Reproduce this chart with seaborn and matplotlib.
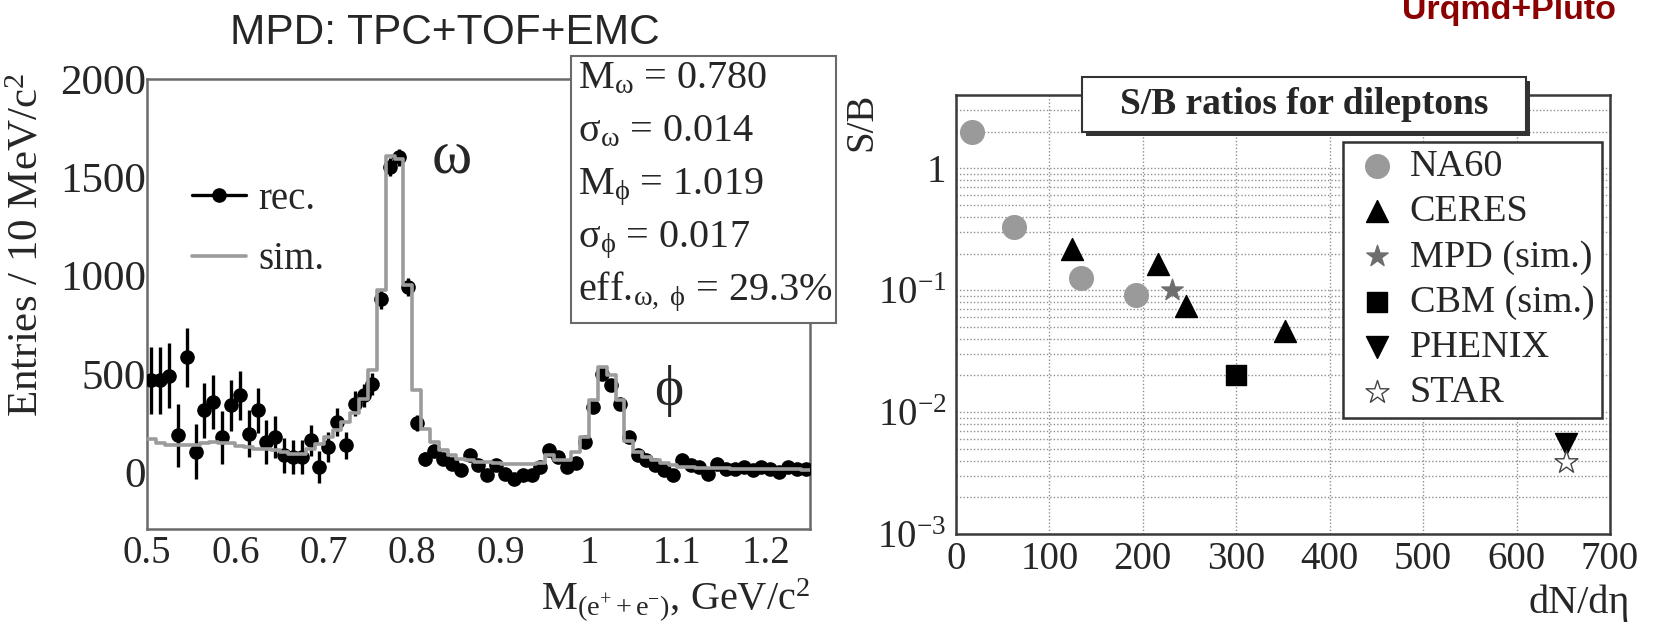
import numpy as np
import pandas as pd
import matplotlib
matplotlib.use("Agg")
import matplotlib.pyplot as plt
from matplotlib.lines import Line2D
from matplotlib.patches import Rectangle
from matplotlib.ticker import FixedLocator, FixedFormatter, MultipleLocator, LogLocator, NullFormatter
import seaborn as sns

# ---------------- invariant-mass spectrum (10 MeV/c^2 bins) ----------------
mass_lo, mass_hi, bin_width = 0.50, 1.25, 0.01

rec_counts = [466, 466, 491, 187, 585, 102, 314, 356, 178, 339,
              390, 195, 314, 153, 178, 85, 76, 76, 161, 25,
              127, 254, 136, 348, 390, 449, 882, 1551, 1601, 940,
              250, 68, 106, 68, 43, 9, 85, 34, -17, 34,
              -8, -34, -17, -17, 25, 110, 76, 25, 48, 153,
              330, 500, 441, 348, 178, 85, 59, 34, 9, -17,
              59, 34, 25, -8, 43, 17, 17, 25, 9, 25,
              17, 0, 25, 17, 17]
rec_errors = [170, 170, 165, 160, 150, 140, 140, 138, 135, 130,
              125, 120, 115, 110, 105, 90, 85, 85, 80, 80,
              75, 72, 70, 65, 60, 55, 50, 45, 45, 45,
              40, 35, 32, 30, 28, 28, 27, 26, 26, 25,
              25, 24, 24, 24, 24, 24, 24, 24, 24, 25,
              28, 30, 30, 28, 25, 22, 20, 18, 17, 16,
              15, 15, 14, 14, 14, 13, 13, 13, 13, 13,
              12, 12, 12, 12, 12]
sim_counts = [170, 146, 136, 136, 136, 140, 150, 153, 150, 150,
              130, 127, 119, 119, 110, 100, 93, 93, 119, 144,
              178, 215, 255, 300, 370, 517, 924, 1610, 1595, 950,
              415, 220, 153, 110, 85, 68, 59, 51, 51, 47,
              43, 40, 40, 40, 45, 85, 60, 59, 102, 178,
              365, 534, 492, 365, 160, 100, 75, 60, 45, 35,
              28, 25, 22, 20, 20, 18, 17, 16, 15, 15,
              14, 14, 13, 13, 12]

mass_ticks = [0.5, 0.6, 0.7, 0.8, 0.9, 1.0, 1.1, 1.2]
mass_tick_labels = ["0.5", "0.6", "0.7", "0.8", "0.9", "1", "1.1", "1.2"]
count_ticks = [0, 500, 1000, 1500, 2000]
count_tick_labels = ["0", "500", "1000", "1500", "2000"]

fit_lines = ["M$_{ω}$ = 0.780",
             "σ$_{ω}$ = 0.014",
             "M$_{ϕ}$ = 1.019",
             "σ$_{ϕ}$ = 0.017",
             "eff.$_{ω,\\ ϕ}$ = 29.3%"]

# ---------------- S/B ratios for dileptons ----------------
na60_dndeta = [17, 62, 134, 193]
na60_sb = [2.0, 0.33, 0.125, 0.091]
ceres_dndeta = [124, 216, 246, 352]
ceres_sb = [0.22, 0.164, 0.074, 0.046]
mpd_dndeta = [231]
mpd_sb = [0.101]
cbm_dndeta = [300]
cbm_sb = [0.020]
phenix_dndeta = [653]
phenix_sb = [0.0055]
star_dndeta = [653]
star_sb = [0.0039]

dndeta_ticks = [0, 100, 200, 300, 400, 500, 600, 700]
sb_ticks = [1e-3, 1e-2, 1e-1, 1]
sb_tick_labels = ["10$^{-3}$", "10$^{-2}$", "10$^{-1}$", "1"]

# ---------------- style ----------------
sns.set_style("white")
SERIF = ["Liberation Serif", "DejaVu Serif"]
SANS = ["Liberation Sans", "DejaVu Sans"]
plt.rcParams["font.family"] = SERIF
plt.rcParams["mathtext.fontset"] = "custom"
plt.rcParams["mathtext.rm"] = "Liberation Serif"
plt.rcParams["mathtext.it"] = "Liberation Serif:italic"
plt.rcParams["mathtext.bf"] = "Liberation Serif:bold"
plt.rcParams["mathtext.default"] = "regular"

W, H = 1656, 628
fig = plt.figure(figsize=(W / 100, H / 100), dpi=100)
fig.patch.set_facecolor("white")


def fx(px):
    return px / W


def fy(py):
    return 1 - py / H


FS = 28
FRAME = "#6a6a6a"

# ================= left panel: e+e- invariant mass =================
ax1 = fig.add_axes([fx(147), fy(529), fx(810) - fx(147), fy(79) - fy(529)])
n_bins = len(sim_counts)
edges = np.linspace(mass_lo, mass_hi, n_bins + 1)
centers = 0.5 * (edges[:-1] + edges[1:])
spec = pd.DataFrame({"mass": centers, "rec": rec_counts,
                     "err": rec_errors, "sim": sim_counts})

ax1.errorbar(spec["mass"], spec["rec"], yerr=spec["err"], fmt="o", color="black",
             ms=9.5, elinewidth=2.4, capsize=0, zorder=3)
sns.histplot(data=spec, x="mass", weights="sim", bins=n_bins,
             binrange=(mass_lo, mass_hi), element="step", fill=False,
             color="#9c9c9c", linewidth=2.6, ax=ax1, zorder=4)

ax1.set_xlim(mass_lo, mass_hi)
ax1.set_ylim(-290, 2000)
ax1.set_xlabel("")
ax1.set_ylabel("")
ax1.xaxis.set_major_locator(FixedLocator(mass_ticks))
ax1.xaxis.set_major_formatter(FixedFormatter(mass_tick_labels))
ax1.xaxis.set_minor_locator(MultipleLocator(0.02))
ax1.yaxis.set_major_locator(FixedLocator(count_ticks))
ax1.yaxis.set_major_formatter(FixedFormatter(count_tick_labels))
ax1.yaxis.set_minor_locator(MultipleLocator(100))
for sp in ax1.spines.values():
    sp.set_color(FRAME)
    sp.set_linewidth(1.8)
ax1.tick_params(which="both", direction="in", color=FRAME, width=1.4,
                top=False, right=False, labelsize=FS)
ax1.tick_params(axis="y", which="major", length=13, pad=0.5, labelsize=31)
ax1.tick_params(axis="y", which="minor", length=6.5)
ax1.tick_params(axis="x", which="major", length=9.5, pad=4)
ax1.tick_params(axis="x", which="minor", length=4)

handles = [Line2D([], [], color="black", marker="o", ms=9.5, lw=2.4),
           Line2D([], [], color="#9c9c9c", lw=2.6)]
ax1.legend(handles, ["rec.", "sim."], loc="upper left",
           bbox_to_anchor=(fx(192), fy(181)), bbox_transform=fig.transFigure,
           frameon=False, fontsize=FS, handlelength=1.4, handletextpad=0.3,
           labelspacing=0.6, borderpad=0, borderaxespad=0)

ax1.text(0.845, 1600, "ω", fontsize=44, ha="center", va="center")
ax1.text(1.090, 410, "ϕ", fontsize=40, ha="center", va="center")

fig.text(fx(47), fy(73), "Entries / 10 MeV/c$^{2}$", rotation=90,
         ha="right", va="top", fontsize=31)
fig.text(fx(810), fy(609), "M$_{(e^{+}+e^{-})}$, GeV/c$^{2}$",
         ha="right", va="baseline", fontsize=29)

# fit-result box
fig.patches.append(Rectangle((fx(571), fy(323)), fx(836) - fx(571), fy(56) - fy(323),
                             transform=fig.transFigure, facecolor="white",
                             edgecolor=FRAME, linewidth=1.5, zorder=5))
for i, line in enumerate(fit_lines):
    fig.text(fx(578), fy(88 + 53 * i), line, ha="left", va="baseline",
             fontsize=29, zorder=6)

fig.text(fx(445), fy(44), "MPD: TPC+TOF+EMC", family=SANS, fontsize=30.5,
         ha="center", va="baseline")

# ================= right panel: S/B vs dN/deta =================
ax2 = fig.add_axes([fx(956), fy(534), fx(1610) - fx(956), fy(95) - fy(534)])
ax2.set_yscale("log")
ax2.set_xlim(0, 700)
ax2.set_ylim(1e-3, 4)

series = [
    (na60_dndeta, na60_sb, "NA60", "o", "#9a9a9a", "#9a9a9a", 290),
    (ceres_dndeta, ceres_sb, "CERES", "^", "black", "black", 250),
    (mpd_dndeta, mpd_sb, "MPD (sim.)", "*", "#6e6e6e", "#6e6e6e", 260),
    (cbm_dndeta, cbm_sb, "CBM (sim.)", "s", "black", "black", 190),
    (phenix_dndeta, phenix_sb, "PHENIX", "v", "black", "black", 250),
    (star_dndeta, star_sb, "STAR", "*", "white", "#444444", 300),
]
for xs, ys, lab, mk, fc, ec, size in series:
    sns.scatterplot(x=xs, y=ys, marker=mk, s=size, color=fc, edgecolor=ec,
                    linewidth=1.0, label=lab, ax=ax2, zorder=4)

ax2.xaxis.set_major_locator(FixedLocator(dndeta_ticks))
ax2.xaxis.set_minor_locator(MultipleLocator(20))
ax2.yaxis.set_major_locator(FixedLocator(sb_ticks))
ax2.yaxis.set_major_formatter(FixedFormatter(sb_tick_labels))
ax2.yaxis.set_minor_locator(LogLocator(base=10, subs=np.arange(2, 10)))
ax2.yaxis.set_minor_formatter(NullFormatter())
ax2.grid(True, which="both", axis="y", ls=(0, (1, 1.5)), color="#8f8f8f", lw=1)
ax2.grid(True, which="major", axis="x", ls=(0, (1, 1.5)), color="#8f8f8f", lw=1)
ax2.set_axisbelow(True)
for sp in ax2.spines.values():
    sp.set_color("#3a3a3a")
    sp.set_linewidth(1.8)
ax2.tick_params(which="both", direction="in", color="#3a3a3a", width=1.4,
                top=False, right=False, labelsize=FS)
ax2.tick_params(axis="y", which="major", length=14.5, pad=7)
ax2.tick_params(axis="y", which="minor", length=7)
ax2.tick_params(axis="x", which="major", length=10, pad=5)
ax2.tick_params(axis="x", which="minor", length=5.5)
ax2.set_xlabel("")
ax2.set_ylabel("")

leg = ax2.legend(loc="upper left", bbox_to_anchor=(fx(1343), fy(142)),
                 bbox_transform=fig.transFigure, fontsize=27.5, frameon=True,
                 fancybox=False, edgecolor="#333333", framealpha=1,
                 handlelength=1.4, handletextpad=0.15, labelspacing=0.27,
                 borderpad=0.2, borderaxespad=0)
leg.get_frame().set_linewidth(1.8)
leg.set_zorder(6)

# title box with drop shadow
fig.patches.append(Rectangle((fx(1086), fy(136)), fx(1530) - fx(1086), fy(81) - fy(136),
                             transform=fig.transFigure, facecolor="#333333",
                             edgecolor="none", zorder=5))
fig.patches.append(Rectangle((fx(1082), fy(132)), fx(1526) - fx(1082), fy(77) - fy(132),
                             transform=fig.transFigure, facecolor="white",
                             edgecolor="#333333", linewidth=1.5, zorder=5))
fig.text(fx(1304), fy(105), "S/B ratios for dileptons", fontsize=27,
         fontweight="bold", ha="center", va="center", zorder=6)

fig.text(fx(880), fy(93), "S/B", rotation=90, ha="right", va="top", fontsize=FS)
fig.text(fx(1630), fy(613), "dN/dη", ha="right", va="baseline", fontsize=29)

fig.text(fx(1616), fy(19), "Urqmd+Pluto", family=SANS, fontweight="bold",
         fontsize=24.5, color="#8b0000", ha="right", va="baseline")

fig.savefig("out.png", dpi=100, facecolor="white")
